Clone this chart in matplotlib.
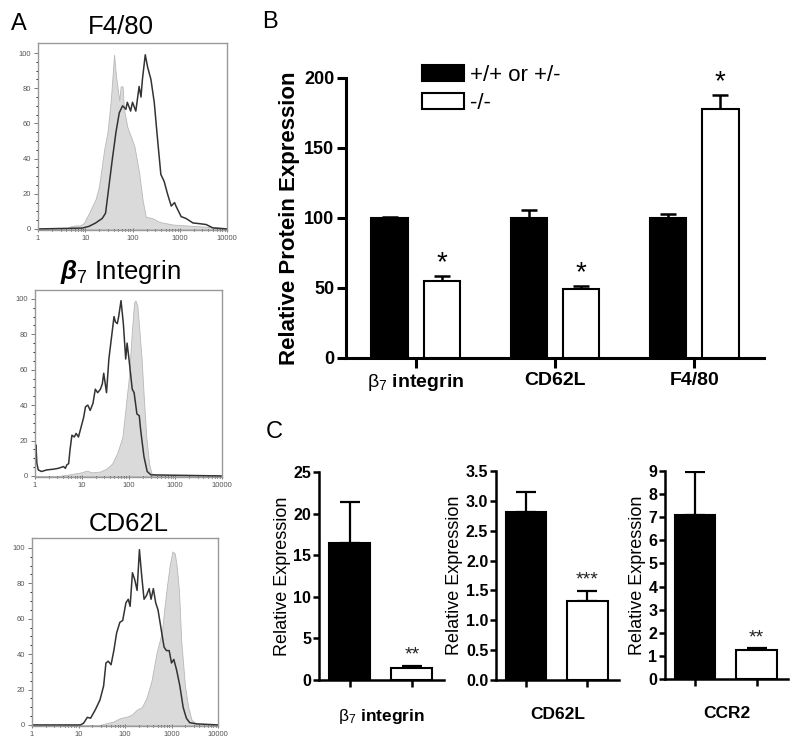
import matplotlib
matplotlib.use('Agg')
import matplotlib.pyplot as plt
import numpy as np

plt.rcParams['font.family'] = ['Liberation Sans', 'DejaVu Sans']
plt.rcParams['mathtext.fontset'] = 'custom'
plt.rcParams['mathtext.rm'] = 'Liberation Sans'
plt.rcParams['mathtext.it'] = 'Liberation Sans:italic'
plt.rcParams['mathtext.bf'] = 'Liberation Sans:italic:bold'

# ---- panel A: flow histograms (x = log10 intensity, y = % of max) ----
f480_ctrl_x = [0, 0.6, 0.69, 0.8, 0.9, 0.97, 1.08, 1.22, 1.29, 1.40, 1.47, 1.54, 1.61, 1.65,
               1.72, 1.75, 1.79, 1.82, 1.89, 1.96, 2.04, 2.14, 2.21, 2.28, 2.43, 2.57, 2.85,
               3.42, 4.0]
f480_ctrl_y = [0, 0, 1.5, 2, 2, 3.4, 9, 17, 24, 45, 55, 73, 99, 87, 73, 81, 81, 68, 58, 53,
               47, 32, 17, 7, 6, 4, 2.5, 1.5, 0.5]
f480_ko_x = [0, 0.94, 1.08, 1.22, 1.36, 1.43, 1.50, 1.57, 1.65, 1.72, 1.79, 1.86, 1.89, 1.96,
             2.0, 2.07, 2.14, 2.18, 2.21, 2.27, 2.32, 2.39, 2.46, 2.53, 2.60, 2.67, 2.74, 2.82,
             2.89, 2.92, 3.03, 3.13, 3.28, 3.42, 3.56, 3.70, 4.0]
f480_ko_y = [0, 0.5, 1.5, 3.4, 6, 9, 24, 39, 55, 66, 70, 68, 72, 67, 72, 67, 81, 75, 85, 99,
             92, 85, 72, 51, 31, 27, 20, 13, 15, 13, 7, 6, 3.4, 3, 2.5, 0.6, 0]

b7_ctrl_x = [0, 0.5, 0.68, 0.79, 0.97, 1.11, 1.22, 1.40, 1.54, 1.65, 1.76, 1.87, 1.94, 2.01,
             2.07, 2.12, 2.15, 2.19, 2.23, 2.28, 2.33, 2.38, 2.44, 2.49, 2.62, 3.98]
b7_ctrl_y = [0, 0, 0.6, 1.1, 1.9, 3, 2, 2.5, 4.3, 7, 13, 22, 39, 56, 81, 98, 99, 96, 83, 66,
             43, 22, 7, 1.5, 0.4, 0]
b7_ko_x = [0, 0.02, 0.04, 0.07, 0.14, 0.25, 0.39, 0.50, 0.61, 0.65, 0.68, 0.72, 0.75, 0.79,
           0.84, 0.88, 0.93, 0.97, 1.04, 1.08, 1.13, 1.18, 1.24, 1.29, 1.34, 1.40, 1.44, 1.47,
           1.53, 1.58, 1.64, 1.69, 1.72, 1.76, 1.79, 1.84, 1.89, 1.94, 1.97, 2.01, 2.08, 2.12,
           2.18, 2.23, 2.26, 2.33, 2.40, 2.48, 3.98]
b7_ko_y = [13, 17.5, 7, 3.4, 2.5, 3.4, 3.8, 4.3, 5.3, 4.3, 6.2, 7, 15, 23, 22, 24, 22, 26, 33,
           39, 40, 37, 41, 49, 47, 49, 52, 58, 47, 66, 79, 90, 87, 86, 90, 99, 86, 66, 75, 66,
           49, 47, 35, 34, 26, 11, 2.5, 0.6, 0]

cd62l_ctrl_x = [0, 1.46, 1.61, 1.75, 1.89, 2.04, 2.14, 2.25, 2.36, 2.46, 2.57, 2.68, 2.79,
                2.86, 2.91, 2.96, 3.02, 3.07, 3.11, 3.16, 3.21, 3.29, 3.36, 3.43, 3.54, 4.0]
cd62l_ctrl_y = [0, 0, 1, 1.9, 3.8, 4.7, 5.7, 8.5, 10, 15, 25, 41, 52, 69, 80, 90, 98, 97, 90,
                76, 47, 22, 10, 3, 0.6, 0]
cd62l_ko_x = [0, 1.04, 1.11, 1.19, 1.26, 1.36, 1.46, 1.54, 1.59, 1.64, 1.70, 1.76, 1.82, 1.89,
              1.95, 2.02, 2.07, 2.11, 2.16, 2.21, 2.26, 2.31, 2.36, 2.41, 2.46, 2.52, 2.56,
              2.61, 2.66, 2.71, 2.79, 2.84, 2.89, 2.95, 3.0, 3.05, 3.11, 3.18, 3.25, 3.32,
              3.39, 3.54, 4.0]
cd62l_ko_y = [0, 0, 1, 4.3, 3.8, 8.5, 14, 22, 35, 36, 34, 42, 52, 58, 59, 69, 71, 67, 86, 82,
              76, 99, 84, 71, 73, 77, 71, 77, 69, 65, 52, 44, 42, 42, 35, 37, 31, 22, 10, 3.8,
              1.3, 0.6, 0]

# ---- panel B ----
b_groups = [r'$\mathrm{\beta_7}$ integrin', 'CD62L', 'F4/80']
b_wt = [100, 100, 100]
b_wt_err = [1, 6, 3]
b_ko = [55, 49.3, 178]
b_ko_err = [3.6, 2.1, 10]

# ---- panel C ----
c_names = [r'$\mathrm{\beta_7}$ integrin', 'CD62L', 'CCR2']
c_wt = [16.5, 2.81, 7.1]
c_wt_err = [4.9, 0.34, 1.85]
c_ko = [1.5, 1.32, 1.25]
c_ko_err = [0.2, 0.17, 0.08]
c_stars = ['**', '***', '**']
c_top = [25, 3.5, 9]
c_step = [5, 0.5, 1]

W, H = 800, 751
fig = plt.figure(figsize=(8, 7.51), dpi=100)


def rect(left, top, right, bottom):
    return [left / W, 1 - bottom / H, (right - left) / W, (bottom - top) / H]


def ftext(x, y, s, **kw):
    fig.text(x / W, 1 - y / H, s, ha='center', va='center', **kw)


def histo(r, gx, gy, lx, ly, ytop):
    ax = fig.add_axes(r)
    ax.fill_between(10 ** np.array(gx), gy, color='#dadada', edgecolor='#b8b8b8', lw=0.6)
    ax.plot(10 ** np.array(lx), ly, color='#333333', lw=1.1)
    ax.set_xscale('log')
    ax.set_xlim(1, 10000)
    ax.set_ylim(-0.6, ytop)
    ax.set_yticks([0, 20, 40, 60, 80, 100])
    ax.set_yticks(np.arange(0, 101, 5), minor=True)
    ax.set_xticks([1, 10, 100, 1000, 10000])
    ax.set_xticklabels(['1', '10', '100', '1000', '10000'])
    ax.tick_params(labelsize=5.5, labelcolor='#555555', color='#777777', width=0.7, pad=2)
    ax.tick_params(axis='y', which='major', length=3, direction='out')
    ax.tick_params(axis='y', which='minor', length=1.5, direction='out')
    ax.tick_params(axis='x', which='major', length=3, direction='inout')
    ax.tick_params(axis='x', which='minor', length=2, direction='inout')
    for s in ax.spines.values():
        s.set_color('#999999')
        s.set_linewidth(1.0)
    return ax


histo(rect(38, 43, 227, 230), f480_ctrl_x, f480_ctrl_y, f480_ko_x, f480_ko_y, 105.7)
histo(rect(35, 290, 222, 477), b7_ctrl_x, b7_ctrl_y, b7_ko_x, b7_ko_y, 105)
histo(rect(32, 538, 218, 726), cd62l_ctrl_x, cd62l_ctrl_y, cd62l_ko_x, cd62l_ko_y, 105.6)

ftext(19, 24, 'A', fontsize=17)
ftext(121, 27, 'F4/80', fontsize=18.5)
ftext(120, 272, r'$\mathbf{\beta}_7$ Integrin', fontsize=18.5)
ftext(129, 524, 'CD62L', fontsize=18.5)
ftext(270, 22, 'B', fontsize=17)
ftext(274, 432, 'C', fontsize=17)

# ---- panel B axes ----
axb = fig.add_axes(rect(346, 78, 764, 358))
xb = np.arange(len(b_groups))
off, bw = 0.187, 0.26
h1 = axb.bar(xb - off, b_wt, bw, color='black', edgecolor='black', lw=1.5, zorder=3,
             label='+/+ or +/-')
h2 = axb.bar(xb + off, b_ko, bw, color='white', edgecolor='black', lw=1.5, zorder=3,
             label='-/-')
zeros = [0] * len(b_groups)
axb.errorbar(xb - off, b_wt, yerr=[zeros, b_wt_err], fmt='none', ecolor='black',
             elinewidth=1.8, capsize=6, capthick=1.8, zorder=2)
axb.errorbar(xb + off, b_ko, yerr=[zeros, b_ko_err], fmt='none', ecolor='black',
             elinewidth=1.8, capsize=6, capthick=1.8, zorder=2)
for i in range(len(b_groups)):
    axb.annotate('*', (xb[i] + off, b_ko[i] + b_ko_err[i]), xytext=(0, 4),
                 textcoords='offset points', ha='center', va='baseline', fontsize=20)
axb.set_xlim(-0.5, 2.5)
axb.set_ylim(0, 200)
axb.set_yticks([0, 50, 100, 150, 200])
axb.set_xticks(xb)
axb.set_xticklabels(b_groups, fontweight='bold', fontsize=14)
for t in axb.get_yticklabels():
    t.set_fontweight('bold')
axb.tick_params(axis='y', labelsize=13, length=6.5, width=2.2, pad=2)
axb.tick_params(axis='x', length=7, width=2.2, pad=3)
axb.spines['top'].set_visible(False)
axb.spines['right'].set_visible(False)
axb.spines['left'].set_linewidth(2.2)
axb.spines['bottom'].set_linewidth(2.2)
axb.set_ylabel('Relative Protein Expression', fontsize=16, fontweight='bold', labelpad=3)
axb.legend(handles=[h1, h2], loc='upper left', bbox_to_anchor=(0.182, 1.046),
           frameon=False, fontsize=16, handlelength=1.89, handleheight=0.72,
           handletextpad=0.27, labelspacing=0.3, borderpad=0, borderaxespad=0)

# ---- panel C axes ----
c_rects = [rect(319, 472, 443.6, 680), rect(496, 471, 618.6, 680), rect(665, 471, 788, 679)]
for i in range(3):
    ax = fig.add_axes(c_rects[i])
    ax.bar([0], [c_wt[i]], 0.66, color='black', edgecolor='black', lw=1.5, zorder=3)
    ax.bar([1], [c_ko[i]], 0.66, color='white', edgecolor='black', lw=1.5, zorder=3)
    ax.errorbar([0, 1], [c_wt[i], c_ko[i]], yerr=[[0, 0], [c_wt_err[i], c_ko_err[i]]],
                fmt='none', ecolor='black', elinewidth=1.6, capsize=7, capthick=1.6, zorder=2)
    ax.annotate(c_stars[i], (1, c_ko[i] + c_ko_err[i]), xytext=(0, 4.5),
                textcoords='offset points', ha='center', va='baseline', fontsize=14,
                color='#222222')
    ax.set_xlim(-0.49, 1.51)
    ax.set_ylim(0, c_top[i])
    yt = np.arange(0, c_top[i] + c_step[i] / 2, c_step[i])
    ax.set_yticks(yt)
    if c_step[i] < 1:
        ax.set_yticklabels(['%.1f' % v for v in yt])
    else:
        ax.set_yticklabels(['%d' % v for v in yt])
    for t in ax.get_yticklabels():
        t.set_fontweight('bold')
    ax.set_xticks([0, 1])
    ax.set_xticklabels([])
    ax.tick_params(axis='y', labelsize=11.5, length=4.5, width=1.8, pad=1)
    ax.tick_params(axis='x', length=5, width=1.8)
    ax.spines['top'].set_visible(False)
    ax.spines['right'].set_visible(False)
    ax.spines['left'].set_linewidth(1.8)
    ax.spines['bottom'].set_linewidth(1.8)
    ax.set_ylabel('Relative Expression', fontsize=13, labelpad=2)
    ax.set_xlabel(c_names[i], fontsize=12.5, fontweight='bold', labelpad=11)

fig.savefig('out.png', dpi=100)
